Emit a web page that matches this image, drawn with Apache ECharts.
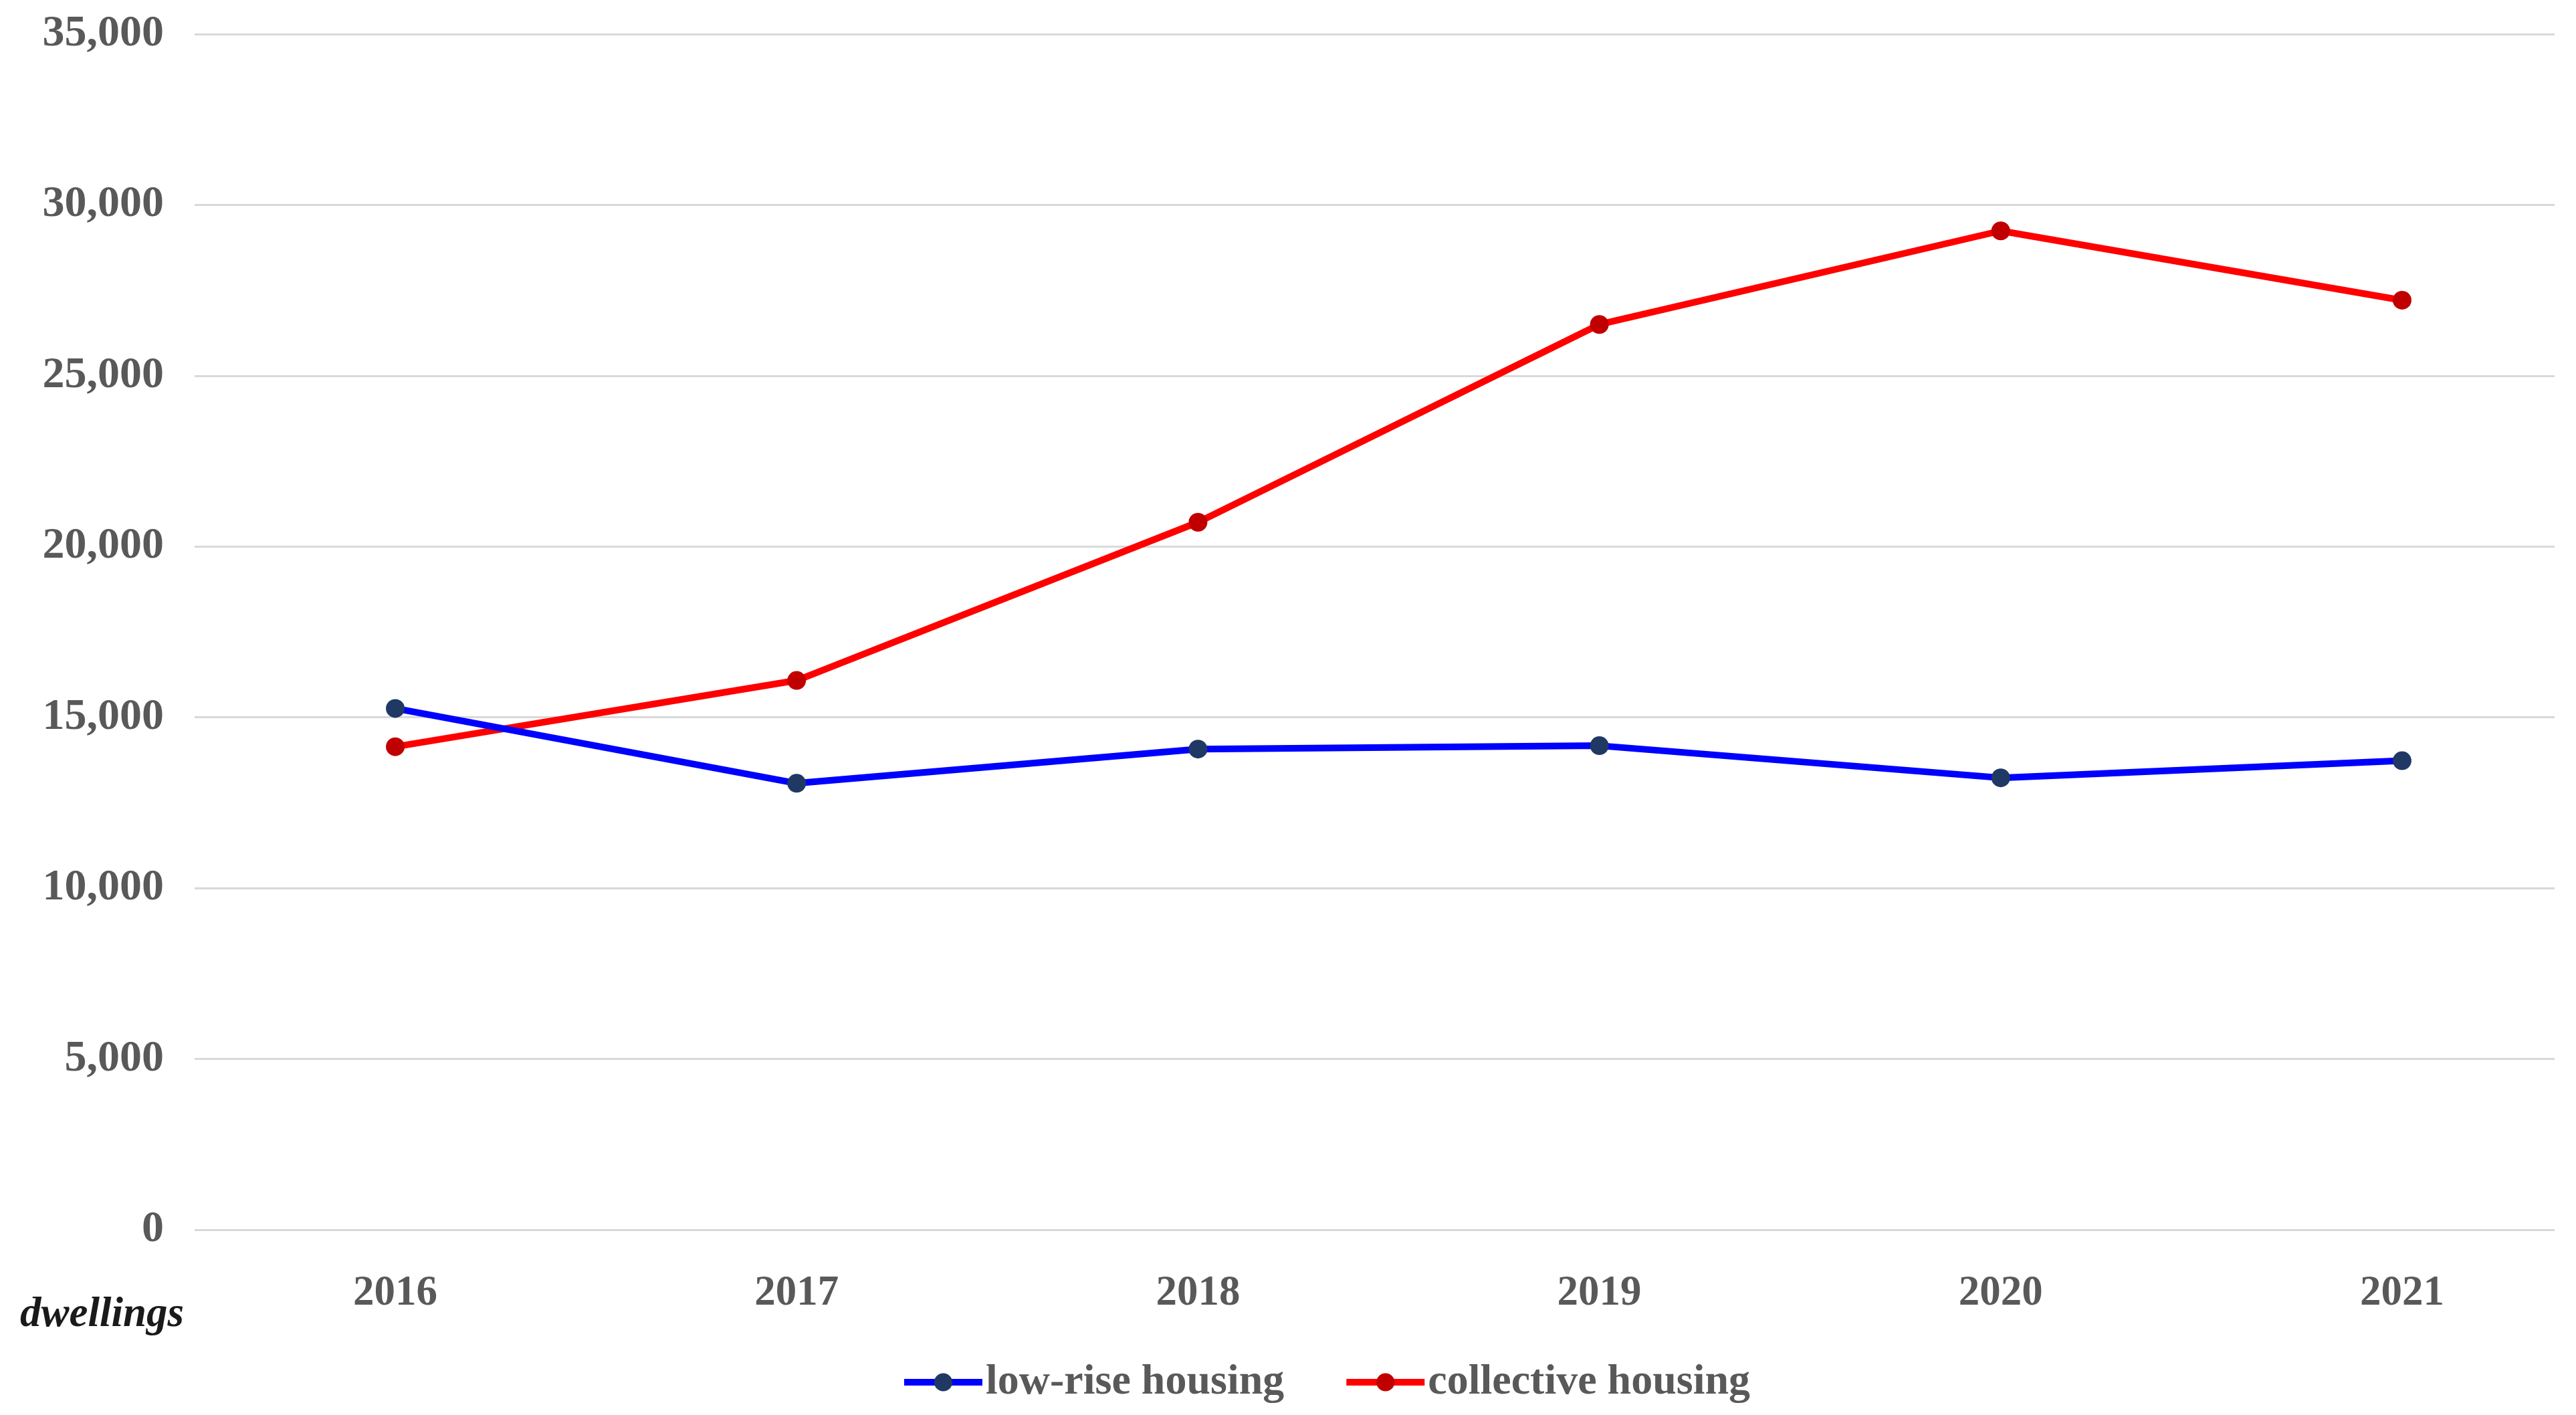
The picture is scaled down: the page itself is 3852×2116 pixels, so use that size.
<!DOCTYPE html>
<html>
<head>
<meta charset="utf-8">
<script src="https://cdn.jsdelivr.net/npm/echarts@6/dist/echarts.min.js"></script>
<style>
html,body{margin:0;padding:0;background:#fff;}
#c{width:3852px;height:2116px;}
</style>
</head>
<body>
<div id="c"></div>
<script>
const years = [2016, 2017, 2018, 2019, 2020, 2021];
const lowRise = [15260, 13070, 14070, 14170, 13230, 13730];
const collective = [14140, 16080, 20710, 26500, 29240, 27210];
const yTicks = [0, 5000, 10000, 15000, 20000, 25000, 30000, 35000];
const seriesNames = ['low-rise housing', 'collective housing'];
const unitLabel = 'dwellings';

const FONT = '"Liberation Serif", "DejaVu Serif", serif';
const chart = echarts.init(document.getElementById('c'), null, {renderer: 'canvas'});

const pairs = vals => years.map((y, i) => [y, vals[i]]);

chart.setOption({
  backgroundColor: '#ffffff',
  animation: false,
  title: {
    text: unitLabel,
    left: 25,
    top: 1930,
    textStyle: {fontFamily: FONT, fontStyle: 'italic', fontWeight: 'bold', fontSize: 63, color: '#1a1a1a'}
  },
  grid: {left: 291, right: 32, top: 51, bottom: 277, containLabel: false},
  legend: {
    left: 1342,
    top: 2030,
    itemWidth: 117,
    itemHeight: 34,
    itemGap: 88,
    lineStyle: {width: 10},
    textStyle: {fontFamily: FONT, fontWeight: 'bold', fontSize: 64, color: '#595959'},
    data: seriesNames
  },
  xAxis: {
    type: 'value',
    min: 2015.5,
    max: 2021.38,
    splitLine: {show: false},
    axisLine: {show: false},
    axisTick: {show: false},
    axisLabel: {
      customValues: years,
      formatter: v => String(v),
      margin: 64,
      fontFamily: FONT, fontWeight: 'bold', fontSize: 63, color: '#595959'
    }
  },
  yAxis: {
    type: 'value',
    min: 0,
    max: 35000,
    interval: 5000,
    axisLine: {show: false},
    axisTick: {show: false},
    splitLine: {lineStyle: {color: '#d9d9d9', width: 3}},
    axisLabel: {
      margin: 46,
      formatter: v => yTicks.includes(v) ? v.toLocaleString('en-US') : '',
      fontFamily: FONT, fontWeight: 'bold', fontSize: 66, color: '#595959'
    }
  },
  series: [
    {
      name: seriesNames[0],
      type: 'line',
      data: pairs(lowRise),
      symbol: 'circle',
      symbolSize: 28,
      lineStyle: {color: '#0000ff', width: 10},
      itemStyle: {color: '#203864'},
      z: 3
    },
    {
      name: seriesNames[1],
      type: 'line',
      data: pairs(collective),
      symbol: 'circle',
      symbolSize: 28,
      lineStyle: {color: '#ff0000', width: 10},
      itemStyle: {color: '#c00000'},
      z: 2
    }
  ]
});
</script>
</body>
</html>
